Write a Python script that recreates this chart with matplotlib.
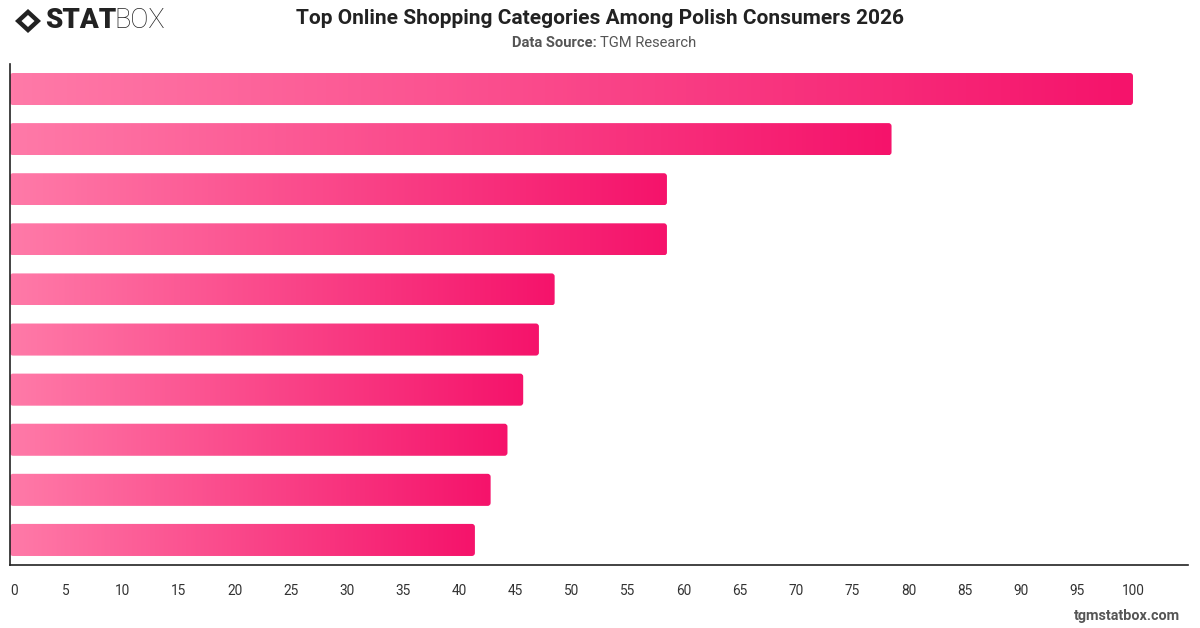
import numpy as np
import matplotlib
matplotlib.use("Agg")
import matplotlib.pyplot as plt
from matplotlib.patches import FancyBboxPatch, Polygon
from matplotlib.colors import LinearSegmentedColormap

# data (labels are not shown on the chart)
values = [100, 78.5, 58.5, 58.5, 48.5, 47.1, 45.7, 44.3, 42.8, 41.4]
xticks = list(range(0, 101, 5))

plt.rcParams['font.family'] = ['Roboto', 'DejaVu Sans']

fig = plt.figure(figsize=(12, 6.28), dpi=100)
ax = fig.add_axes([10/1200, 63/628, 1178/1200, 501/628])

n = len(values)
ax.set_xlim(0, 104.9)
ax.set_ylim(n, 0)

pink = LinearSegmentedColormap.from_list("pk", ["#ff7aa8", "#f5136b"])
grad = np.linspace(0, 1, 256).reshape(1, -1)
bar_h = 0.64
# rounded corners: keep roughly circular in pixel space
px_x = 1178 / 104.9
px_y = 501 / n
aspect = px_x / px_y

for i, v in enumerate(values):
    y0 = i + (1 - bar_h) / 2
    patch = FancyBboxPatch((0, y0), v, bar_h,
                           boxstyle="round,pad=0,rounding_size=%f" % (3 / px_x),
                           mutation_aspect=aspect,
                           facecolor="none", edgecolor="none")
    ax.add_patch(patch)
    im = ax.imshow(grad, cmap=pink, aspect="auto",
                   extent=(0, v, y0 + bar_h, y0), zorder=2)
    im.set_clip_path(patch)

ax.set_xlim(0, 104.9)
ax.set_ylim(n, 0)
ax.set_xticks(xticks)
ax.set_xticklabels([str(t) for t in xticks])
ax.get_xticklabels()[0].set_ha("left")
ax.set_yticks([])
ax.tick_params(axis='x', length=0, pad=14, labelsize=9.8, labelcolor="#333333")
for s in ["top", "right"]:
    ax.spines[s].set_visible(False)
ax.spines["left"].set_color("#222222")
ax.spines["bottom"].set_color("#222222")
ax.spines["left"].set_linewidth(1.2)
ax.spines["bottom"].set_linewidth(1.2)

# title block
fig.text(0.5, 1 - 18/628, "Top Online Shopping Categories Among Polish Consumers 2026",
         ha="center", va="center", fontsize=15, fontweight="bold", color="#222222")
fig.text(0.5, 1 - 43/628, "Data Source: ", ha="right", va="center",
         fontsize=10.6, fontweight="bold", color="#555555")
fig.text(0.5, 1 - 43/628, "TGM Research", ha="left", va="center",
         fontsize=10.6, color="#555555")

# logo
lx, ly = 28/1200, 1 - 21/628
dx, dy = 13/1200, 12/628
fig.patches.append(Polygon([[lx - dx, ly], [lx, ly + dy], [lx + dx, ly], [lx, ly - dy]],
                           closed=True, transform=fig.transFigure,
                           facecolor="#222222", edgecolor="none"))
fig.patches.append(Polygon([[lx - dx*0.5, ly], [lx, ly + dy*0.5], [lx + dx*0.5, ly], [lx, ly - dy*0.5]],
                           closed=True, transform=fig.transFigure,
                           facecolor="white", edgecolor="none"))
fig.text(45/1200, ly, "STAT", ha="left", va="center", fontsize=20,
         fontweight="black", color="#222222")
fig.text(114/1200, ly, "BOX", ha="left", va="center", fontsize=19.5,
         fontweight="light", color="#222222")

# footer
fig.text(1180/1200, 1 - 616/628, "tgmstatbox.com", ha="right", va="center",
         fontsize=10.4, fontweight="bold", color="#555555")

fig.savefig("out.png", dpi=100)
